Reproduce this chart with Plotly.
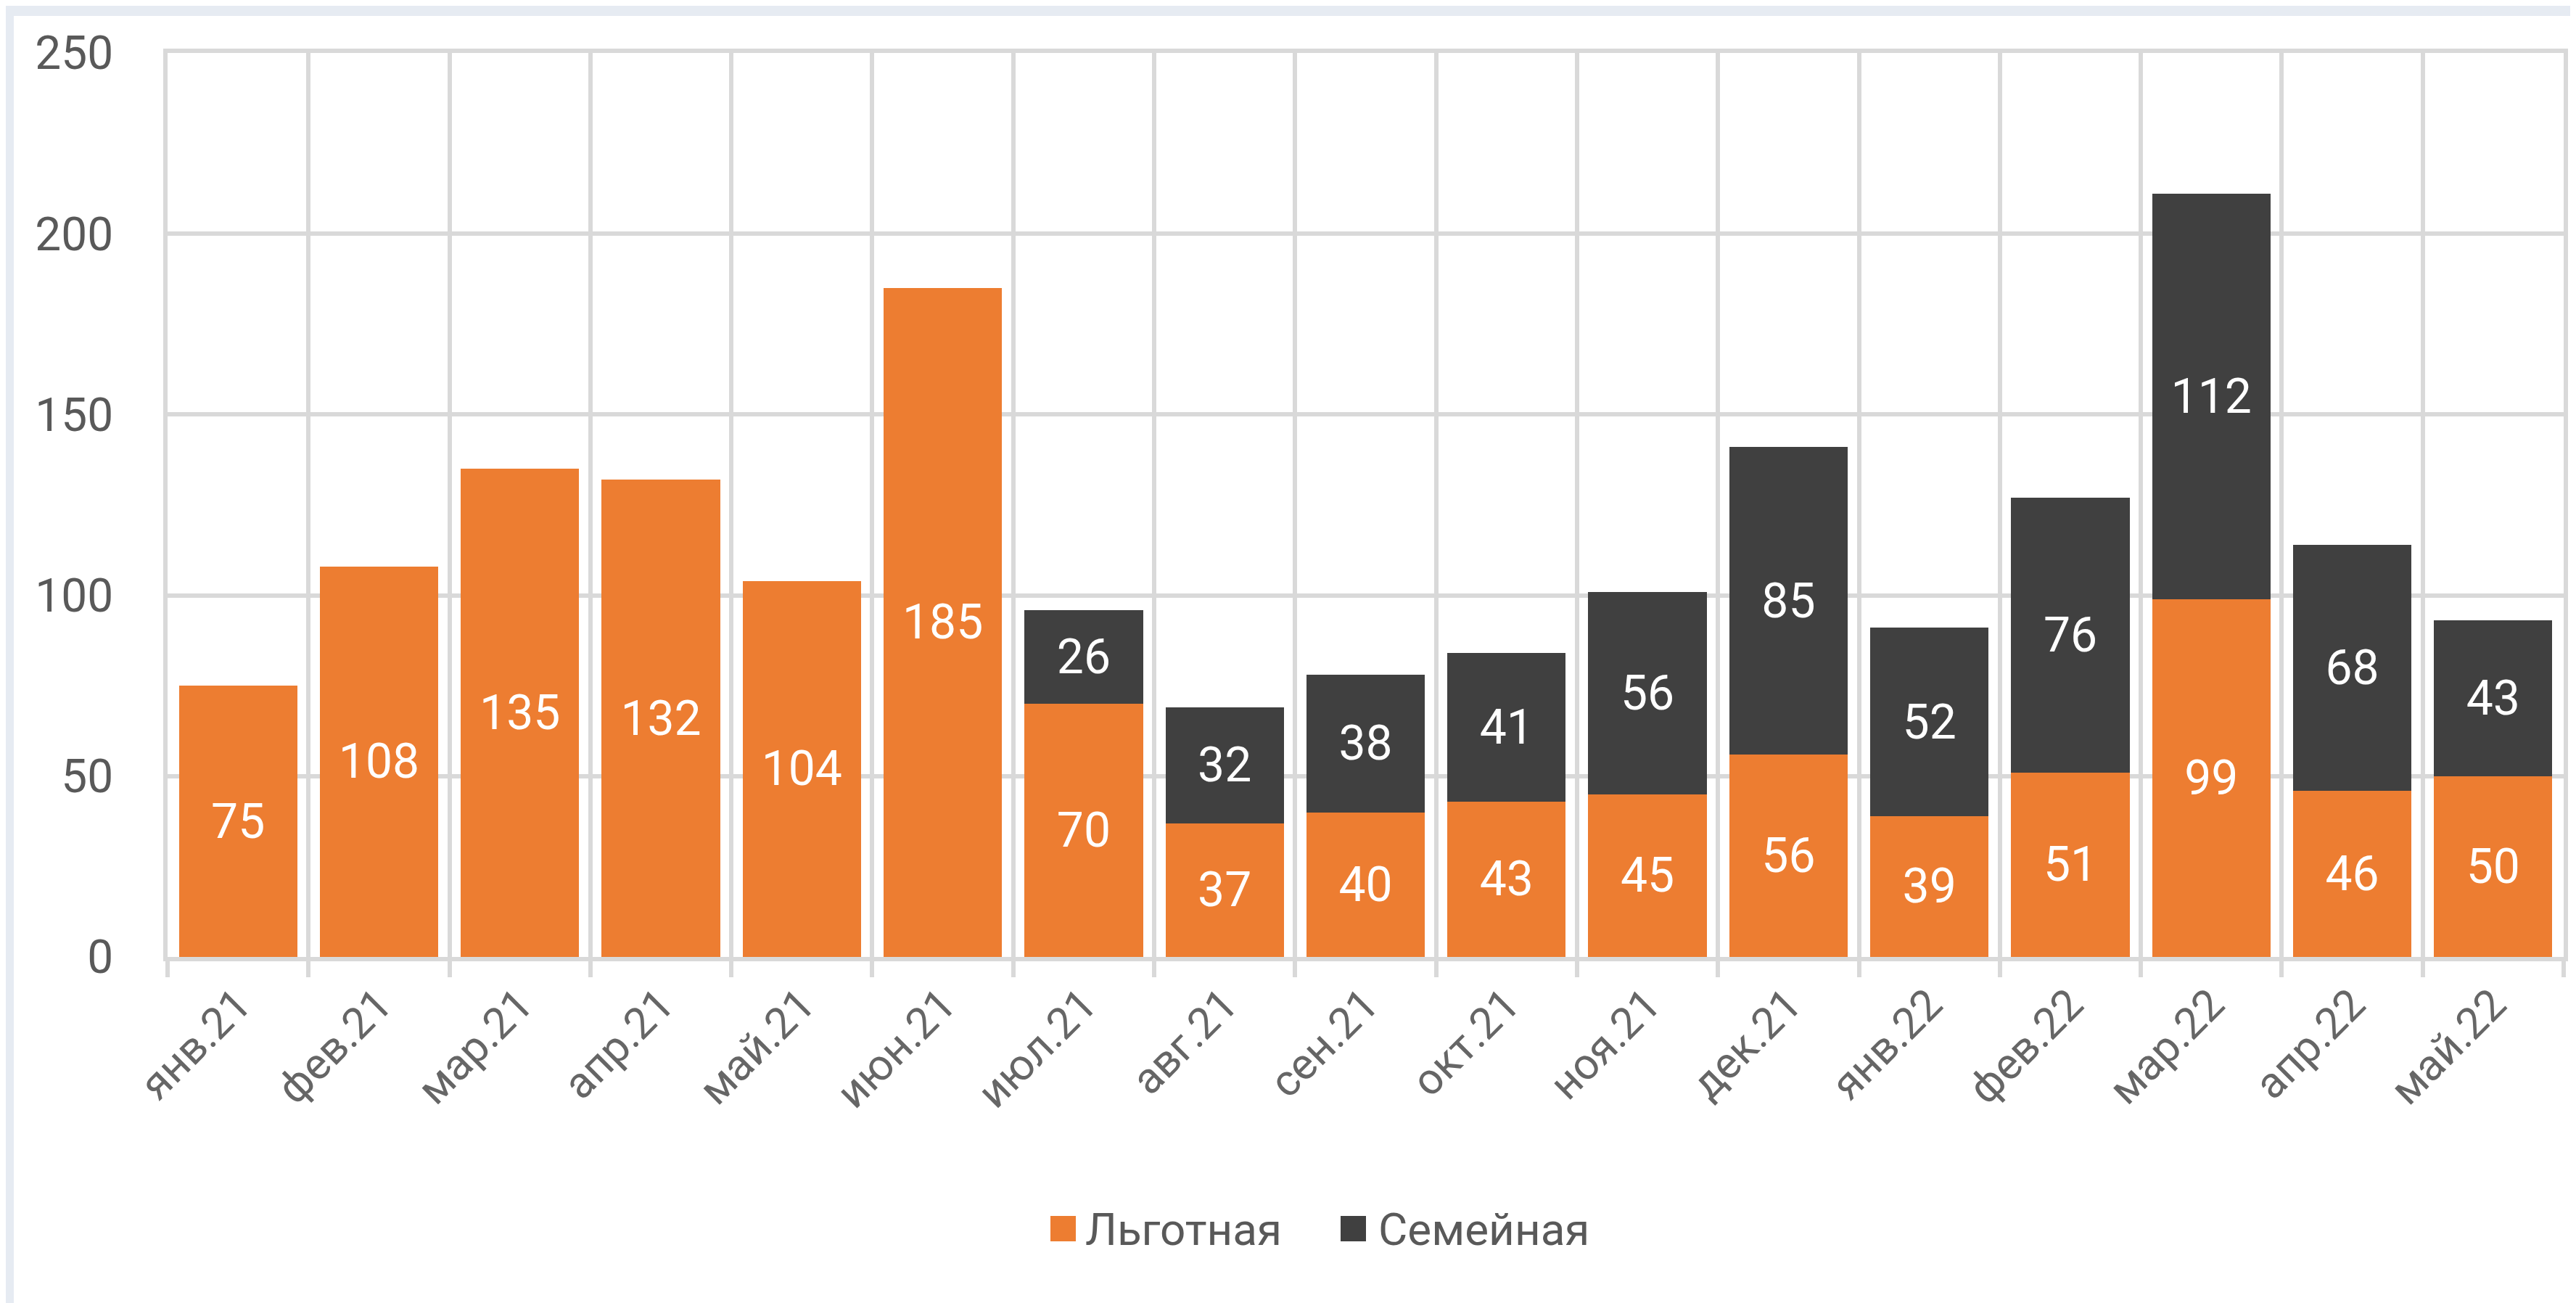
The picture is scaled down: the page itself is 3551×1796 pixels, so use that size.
import plotly.graph_objects as go

categories = ["янв.21", "фев.21", "мар.21", "апр.21", "май.21", "июн.21", "июл.21",
              "авг.21", "сен.21", "окт.21", "ноя.21", "дек.21", "янв.22", "фев.22",
              "мар.22", "апр.22", "май.22"]
lgotnaya = [75, 108, 135, 132, 104, 185, 70, 37, 40, 43, 45, 56, 39, 51, 99, 46, 50]
semeynaya = [None, None, None, None, None, None, 26, 32, 38, 41, 56, 85, 52, 76, 112, 68, 43]
series_names = ["Льготная", "Семейная"]
y_ticks = [0, 50, 100, 150, 200, 250]

ORANGE = "#ED7D31"
DARK = "#404040"
GRID = "#D9D9D9"
TEXT = "#595959"
FONT = "Roboto, sans-serif"

W, H = 3551, 1796
L, R, T, B = 223, 3526, 65, 1311


def px(x):
    return (x - L) / (R - L)


def py(y):
    return (B - y) / (B - T)


fig = go.Figure()
for name, vals, col in [(series_names[0], lgotnaya, ORANGE), (series_names[1], semeynaya, DARK)]:
    fig.add_trace(go.Bar(
        x=categories, y=vals, name=name, marker=dict(color=col, line=dict(width=0)),
        texttemplate="%{y}", textposition="inside", insidetextanchor="middle",
        textangle=0, constraintext="none",
        textfont=dict(color="white", size=66, family=FONT),
        showlegend=False,
    ))

shapes = [
    # page frame strips
    dict(type="rect", xref="paper", yref="paper", x0=px(0), x1=px(W), y0=py(14), y1=py(0),
         fillcolor="#E6EBF2", line=dict(width=0), layer="below"),
    dict(type="rect", xref="paper", yref="paper", x0=px(0), x1=px(11), y0=py(H), y1=py(0),
         fillcolor="#E6EBF2", line=dict(width=0), layer="below"),
    # legend squares
    dict(type="rect", xref="paper", yref="paper", x0=px(1440), x1=px(1475), y0=py(1703), y1=py(1668),
         fillcolor=ORANGE, line=dict(width=0)),
    dict(type="rect", xref="paper", yref="paper", x0=px(1840), x1=px(1875), y0=py(1703), y1=py(1668),
         fillcolor=DARK, line=dict(width=0)),
]
annotations = [
    dict(text=series_names[0], xref="paper", yref="paper", x=px(1486), y=py(1686),
         xanchor="left", yanchor="middle", showarrow=False,
         font=dict(size=62, color=TEXT, family=FONT)),
    dict(text=series_names[1], xref="paper", yref="paper", x=px(1890), y=py(1686),
         xanchor="left", yanchor="middle", showarrow=False,
         font=dict(size=62, color=TEXT, family=FONT)),
]

fig.update_layout(
    width=W, height=H, autosize=False,
    barmode="stack", bargap=0.16,
    paper_bgcolor="white", plot_bgcolor="rgba(0,0,0,0)",
    margin=dict(l=L, r=W - R, t=T, b=H - B, pad=0),
    font=dict(family=FONT, color=TEXT),
    showlegend=False,
    shapes=shapes, annotations=annotations,
    xaxis=dict(
        type="category", tickson="boundaries", showgrid=True, gridcolor=GRID, gridwidth=6,
        showline=True, linecolor=GRID, linewidth=6, mirror=True,
        ticks="outside", ticklen=22, tickwidth=6, tickcolor=GRID,
        tickangle=-45, tickfont=dict(size=60, color="#666666", family=FONT),
    ),
    yaxis=dict(
        range=[0, 250], tickvals=y_ticks, showgrid=True, gridcolor=GRID, gridwidth=6,
        showline=True, linecolor=GRID, linewidth=6, mirror=True,
        ticks="", ticklabelstandoff=56, zeroline=False,
        tickfont=dict(size=64, color=TEXT, family=FONT),
    ),
)

fig.write_html("out.html")
